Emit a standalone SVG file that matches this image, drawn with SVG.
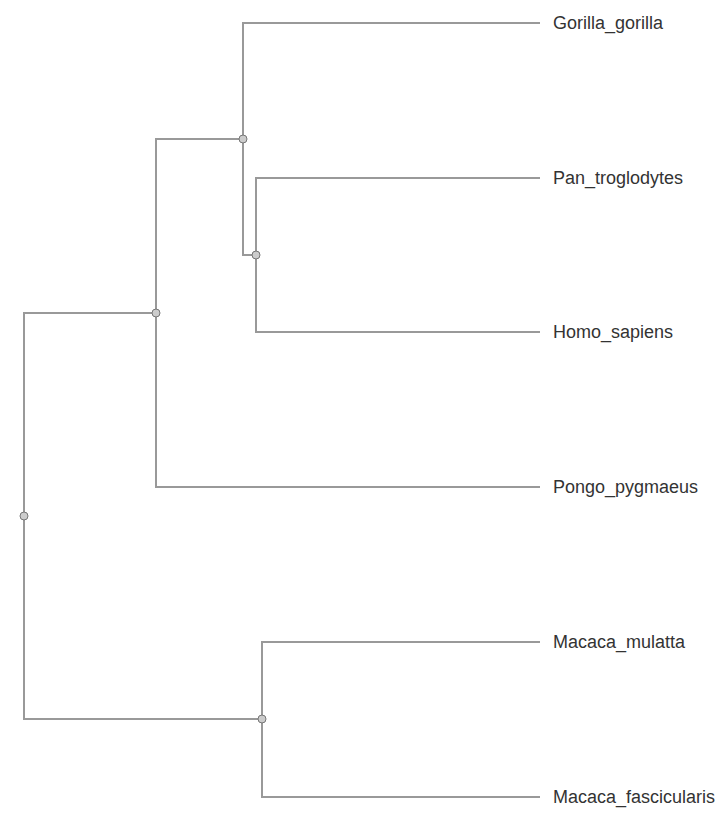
<svg xmlns="http://www.w3.org/2000/svg" width="728" height="816" viewBox="0 0 728 816">
<style>
.link{fill:none;stroke:#999;stroke-width:2}
.node circle{fill:#ccc;stroke:#777;stroke-width:1}
.leaf text{font-family:"Liberation Sans",Arial,sans-serif;font-size:18px;fill:#333}
</style>
<rect width="728" height="816" fill="#fff"/>
<g id="links">
<path class="link" d="M24,516V313H156"/>
<path class="link" d="M24,516V719H262"/>
<path class="link" d="M156,313V139H243"/>
<path class="link" d="M156,313V487H540"/>
<path class="link" d="M243,139V23H540"/>
<path class="link" d="M243,139V255H256"/>
<path class="link" d="M256,255V178H540"/>
<path class="link" d="M256,255V332H540"/>
<path class="link" d="M262,719V642H540"/>
<path class="link" d="M262,719V797H540"/>
</g>
<g id="root" class="node"><circle cx="24" cy="516" r="4"/></g>
<g id="n_hominidae" class="node"><circle cx="156" cy="313" r="4"/></g>
<g id="n_homininae" class="node"><circle cx="243" cy="139" r="4"/></g>
<g id="n_hominini" class="node"><circle cx="256" cy="255" r="4"/></g>
<g id="n_macaca" class="node"><circle cx="262" cy="719" r="4"/></g>
<g id="Gorilla_gorilla" class="leaf"><text x="553" y="29">Gorilla_gorilla</text></g>
<g id="Pan_troglodytes" class="leaf"><text x="553" y="184">Pan_troglodytes</text></g>
<g id="Homo_sapiens" class="leaf"><text x="553" y="338">Homo_sapiens</text></g>
<g id="Pongo_pygmaeus" class="leaf"><text x="553" y="493">Pongo_pygmaeus</text></g>
<g id="Macaca_mulatta" class="leaf"><text x="553" y="648">Macaca_mulatta</text></g>
<g id="Macaca_fascicularis" class="leaf"><text x="553" y="803">Macaca_fascicularis</text></g>
</svg>
